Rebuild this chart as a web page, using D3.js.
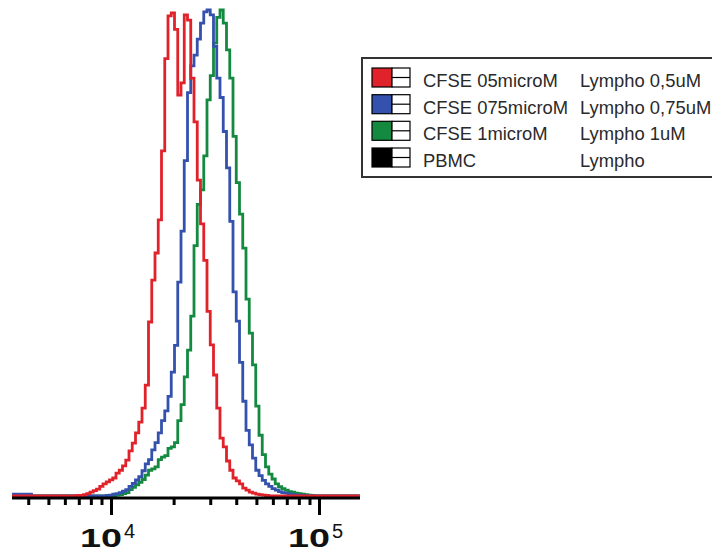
<!DOCTYPE html>
<html>
<head>
<meta charset="utf-8">
<script src="https://cdn.jsdelivr.net/npm/d3@7"></script>
<style>
  html, body { margin: 0; padding: 0; background: #fff; }
  svg { display: block; }
  text { font-family: "Liberation Sans", Arial, sans-serif; }
</style>
</head>
<body>
<svg id="chart" width="712" height="553"></svg>
<script>
// Histogram channel grid: log-spaced bins, 64 per decade, starting at 10^3.524
const binsPerDecade = 64;
const logMin = 3.524;

// Normalised event counts (% of mode) per bin, one array per sample
const redCounts = [
  0, 0, 0, 0, 0, 0, 0, 0, 0, 0, 0, 0, 0, 0, 0, 0, 0, 0, 0, 0,
  0.1, 0.1, 0.3, 0.5, 0.8, 1.1, 1.4, 2.0, 2.5, 2.9,
  3.3, 3.7, 4.7, 5.3, 6.2, 7.4, 9.3, 10.9, 13.0, 15.2,
  18.1, 22.8, 35.8, 44.4, 50.0, 56.8, 71.0, 90.0, 98.8, 99.4,
  96.0, 82.5, 85.0, 99.0, 97.9, 86.0, 77.0, 65.0, 56.0, 48.5,
  38.0, 31.1, 24.9, 18.1, 11.9, 10.1, 7.2, 5.3, 3.7, 3.1,
  2.5, 1.6, 1.2, 0.8, 0.6, 0.4, 0.3, 0.2, 0.1,
  0, 0, 0, 0, 0, 0, 0, 0, 0, 0, 0, 0, 0, 0, 0, 0, 0, 0, 0, 0,
  0, 0, 0, 0, 0, 0, 0, 0
];
const blueCounts = [
  0.4, 0.4, 0.4, 0.4, 0.4, 0.4,
  0, 0, 0, 0, 0, 0, 0, 0, 0, 0, 0, 0, 0, 0, 0, 0, 0, 0, 0, 0, 0, 0, 0,
  0.1, 0.2, 0.4, 0.5, 0.7, 1.0, 1.3, 2.0, 2.6, 3.3, 4.0,
  5.2, 6.6, 7.5, 9.5, 11.0, 13.0, 15.5, 17.5, 20.5, 25.5,
  31.0, 44.0, 54.5, 69.0, 83.0, 88.5, 90.7, 94.0, 97.3, 99.6,
  100, 99.0, 92.5, 86.0, 82.0, 75.0, 67.5, 56.5, 42.0, 36.0,
  27.5, 19.5, 13.5, 10.5, 7.8, 5.3, 4.2, 3.2, 2.5, 2.0,
  1.5, 1.2, 0.9, 0.7, 0.6, 0.4, 0.3, 0.2, 0.2, 0.1,
  0, 0, 0, 0, 0, 0, 0, 0, 0, 0, 0, 0, 0, 0, 0, 0, 0
];
const greenCounts = [
  0, 0, 0, 0, 0, 0, 0, 0, 0, 0, 0, 0, 0, 0, 0, 0, 0, 0, 0, 0,
  0, 0, 0, 0, 0, 0, 0, 0, 0, 0, 0,
  0.1, 0.2, 0.3, 0.5, 0.7, 1.3, 1.8, 2.3, 2.8,
  3.4, 4.3, 5.3, 5.6, 6.0, 7.5, 8.0, 8.3, 9.8, 10.1,
  11.0, 15.5, 18.8, 24.5, 30.0, 37.0, 51.5, 60.0, 63.0, 70.0,
  81.5, 86.5, 93.2, 98.5, 100, 97.3, 91.8, 86.0, 74.0, 64.5,
  58.0, 51.0, 40.5, 33.5, 27.0, 18.5, 12.5, 8.5, 6.0, 4.5,
  3.5, 2.5, 1.9, 1.5, 1.2, 0.9, 0.8, 0.6, 0.5, 0.4,
  0.3, 0.2, 0.1,
  0, 0, 0, 0, 0, 0, 0, 0, 0, 0, 0, 0, 0, 0
];

// Sample names and legend texts
const sampleNames = ["CFSE 05microM", "CFSE 075microM", "CFSE 1microM", "PBMC"];
const gateNames = ["Lympho 0,5uM", "Lympho 0,75uM", "Lympho 1uM", "Lympho"];
const sampleColors = ["#e0222b", "#3452ad", "#148a40", "#000000"];

// Axis ticks
const majorTicks = [1e4, 1e5];
const majorExponents = ["4", "5"];

const nBins = redCounts.length;
const svg = d3.select("#chart");

const x = d3.scaleLog()
  .domain([Math.pow(10, logMin), Math.pow(10, logMin + nBins / binsPerDecade)])
  .range([12, 359.75]);
const y = d3.scaleLinear().domain([0, 100]).range([496, 10]);

// Bin left edges in fluorescence units
const edges = d3.range(nBins + 1).map(i => Math.pow(10, logMin + i / binsPerDecade));

function stepPoints(counts) {
  const pts = counts.map((c, i) => [edges[i], c]);
  pts.push([edges[nBins], counts[nBins - 1]]);
  return pts;
}

const line = d3.line()
  .x(d => x(d[0]))
  .y(d => y(d[1]))
  .curve(d3.curveStepAfter);

// Draw order: green, blue, then red on top
const drawOrder = [
  { counts: greenCounts, color: sampleColors[2] },
  { counts: blueCounts, color: sampleColors[1] },
  { counts: redCounts, color: sampleColors[0] }
];
svg.append("g").selectAll("path")
  .data(drawOrder)
  .join("path")
  .attr("d", d => line(stepPoints(d.counts)))
  .attr("fill", "none")
  .attr("stroke", d => d.color)
  .attr("stroke-width", 2.8)
  .attr("stroke-linejoin", "miter");

// X axis
const axisY = 498;
const allTicks = x.ticks().filter(t => {
  const px = x(t);
  return px >= 12 && px <= 360;
});
const axis = d3.axisBottom(x)
  .tickValues(allTicks)
  .tickSizeOuter(0)
  .tickFormat("");
const gAxis = svg.append("g")
  .attr("transform", `translate(0,${axisY})`)
  .call(axis);
gAxis.select(".domain")
  .attr("d", "M12,0H360")
  .attr("stroke", "#000")
  .attr("stroke-width", 3);
gAxis.selectAll(".tick line")
  .attr("stroke", "#000")
  .attr("stroke-width", 3)
  .attr("y2", d => majorTicks.includes(d) ? 17 : 7);

// Decade labels: "10" with a superscript exponent
majorTicks.forEach((t, i) => {
  const cx = x(t);
  svg.append("text")
    .attr("transform", `translate(${cx - 10},547) scale(1.45,1)`)
    .attr("text-anchor", "middle")
    .attr("font-size", 26)
    .attr("font-weight", "bold")
    .attr("fill", "#111")
    .text("10");
  svg.append("text")
    .attr("x", cx + 13)
    .attr("y", 538)
    .attr("font-size", 20)
    .attr("fill", "#111")
    .text(majorExponents[i]);
});

// Legend
const legend = svg.append("g");
legend.append("rect")
  .attr("x", 362).attr("y", 58)
  .attr("width", 380).attr("height", 119)
  .attr("fill", "#fff")
  .attr("stroke", "#333")
  .attr("stroke-width", 2);

const rowBase = [87, 113.7, 140.3, 167];
sampleNames.forEach((name, i) => {
  const b = rowBase[i];
  const top = b - 19;
  const g = legend.append("g");
  g.append("rect")
    .attr("x", 372).attr("y", top).attr("width", 20).attr("height", 19)
    .attr("fill", sampleColors[i]).attr("stroke", "#000").attr("stroke-width", 1.2);
  g.append("rect")
    .attr("x", 392).attr("y", top).attr("width", 18).attr("height", 19)
    .attr("fill", "#fff").attr("stroke", "#000").attr("stroke-width", 1.2);
  g.append("line")
    .attr("x1", 392).attr("x2", 410)
    .attr("y1", top + 9.5).attr("y2", top + 9.5)
    .attr("stroke", "#000").attr("stroke-width", 1.2);
  g.append("text")
    .attr("x", 423).attr("y", b)
    .attr("font-size", 18.4)
    .attr("fill", "#2a2a2a")
    .text(name);
  g.append("text")
    .attr("x", 580).attr("y", b)
    .attr("font-size", 18.4)
    .attr("fill", "#2a2a2a")
    .text(gateNames[i]);
});
</script>
</body>
</html>
